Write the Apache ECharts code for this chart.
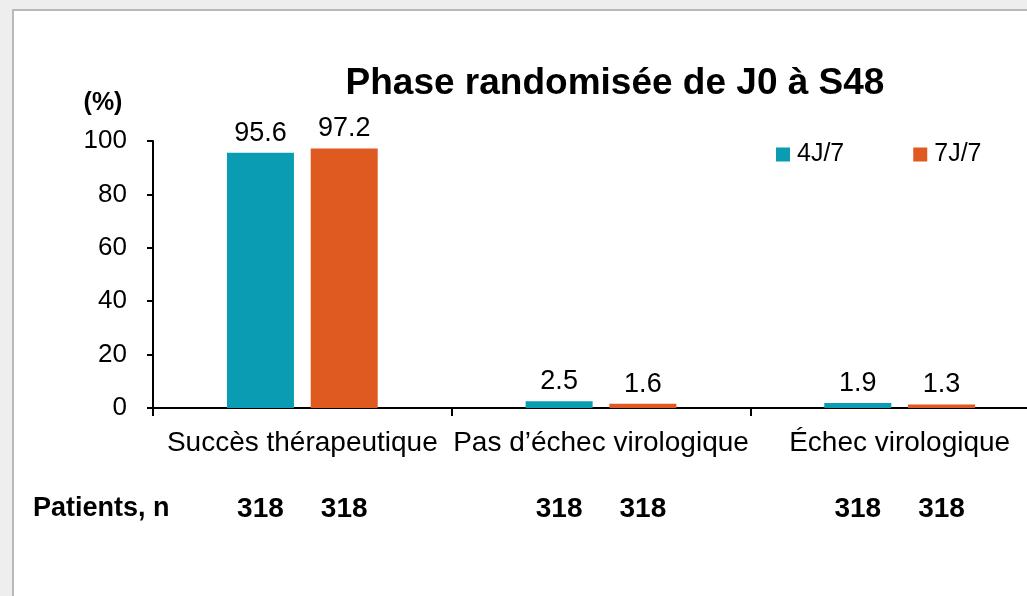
<!DOCTYPE html>
<html>
<head>
<meta charset="utf-8">
<script src="https://cdn.jsdelivr.net/npm/echarts@6/dist/echarts.min.js"></script>
<style>
  html, body { margin: 0; padding: 0; background: #fff; overflow: hidden; width: 1027px; height: 596px; }
  #chart { width: 1050px; height: 596px; }
</style>
</head>
<body>
<div id="chart"></div>
<script>
const categories = ['Succès thérapeutique', 'Pas d\u2019échec virologique', 'Échec virologique'];
const seriesNames = ['4J/7', '7J/7'];
const values4J = [95.6, 2.5, 1.9];
const values7J = [97.2, 1.6, 1.3];
const patients4J = [318, 318, 318];
const patients7J = [318, 318, 318];
const yTicks = [0, 20, 40, 60, 80, 100];
const titleText = 'Phase randomisée de J0 à S48';
const unitText = '(%)';
const patientsLabel = 'Patients, n';

const FONT = '"Liberation Sans", Arial, sans-serif';
const TEAL = '#0A9CB3';
const ORANGE = '#DE5A21';

const chart = echarts.init(document.getElementById('chart'), null, { renderer: 'canvas' });

function countSeries(name, stack, arr) {
  return {
    name: name, type: 'bar', stack: stack, data: arr.map(() => 0),
    barWidth: 67, barGap: '25%', silent: true,
    itemStyle: { color: 'rgba(0,0,0,0)' },
    label: {
      show: true, position: 'bottom', distance: 87,
      formatter: p => String(arr[p.dataIndex]),
      color: '#000', fontSize: 28, fontWeight: 'bold', fontFamily: FONT
    }
  };
}
function valueSeries(name, stack, arr, color) {
  return {
    name: name, type: 'bar', stack: stack, data: arr,
    barWidth: 67, barGap: '25%',
    itemStyle: { color: color },
    label: {
      show: true, position: 'top', distance: 6,
      formatter: p => arr[p.dataIndex].toFixed(1),
      color: '#000', fontSize: 27, fontFamily: FONT
    }
  };
}

chart.setOption({
  animation: false,
  backgroundColor: '#fff',
  grid: { left: 153, right: 1, top: 141, bottom: 188, containLabel: false },
  legend: {
    data: seriesNames,
    left: 776, top: 142, padding: 0,
    itemWidth: 14, itemHeight: 14, itemGap: 69,
    icon: 'rect',
    textStyle: { fontSize: 25, color: '#000', fontFamily: FONT, padding: [0, 0, 0, 2] }
  },
  xAxis: {
    type: 'category', data: categories,
    axisLine: { lineStyle: { color: '#000', width: 2 } },
    axisTick: { show: true, length: 8, lineStyle: { color: '#000', width: 2 } },
    axisLabel: { fontSize: 28, color: '#000', fontFamily: FONT, margin: 21, interval: 0 }
  },
  yAxis: {
    type: 'value', min: yTicks[0], max: yTicks[yTicks.length - 1], interval: 20,
    splitLine: { show: false },
    axisLine: { show: true, lineStyle: { color: '#000', width: 2 } },
    axisTick: { show: true, length: 6, lineStyle: { color: '#000', width: 2 } },
    axisLabel: { fontSize: 26, color: '#000', fontFamily: FONT, margin: 26 }
  },
  series: [
    countSeries('n4', 'A', patients4J),
    valueSeries(seriesNames[0], 'A', values4J, TEAL),
    countSeries('n7', 'B', patients7J),
    valueSeries(seriesNames[1], 'B', values7J, ORANGE)
  ],
  graphic: [
    { type: 'rect', silent: true, z: 100, shape: { x: 0, y: 0, width: 1050, height: 9 }, style: { fill: '#eeeeee' } },
    { type: 'rect', silent: true, z: 100, shape: { x: 0, y: 0, width: 12, height: 596 }, style: { fill: '#eeeeee' } },
    { type: 'rect', silent: true, z: 101, shape: { x: 12, y: 9, width: 1038, height: 2 }, style: { fill: '#b9b9b9' } },
    { type: 'rect', silent: true, z: 101, shape: { x: 12, y: 9, width: 2, height: 587 }, style: { fill: '#b9b9b9' } },
    { type: 'text', silent: true, x: 615, y: 84, style: { text: titleText, textAlign: 'center', textVerticalAlign: 'middle', font: 'bold 37px ' + FONT, fill: '#000' } },
    { type: 'text', silent: true, x: 103, y: 103, style: { text: unitText, textAlign: 'center', textVerticalAlign: 'middle', font: 'bold 25px ' + FONT, fill: '#000' } },
    { type: 'text', silent: true, x: 33, y: 509, style: { text: patientsLabel, textAlign: 'left', textVerticalAlign: 'middle', font: 'bold 27px ' + FONT, fill: '#000' } }
  ]
});
</script>
</body>
</html>
